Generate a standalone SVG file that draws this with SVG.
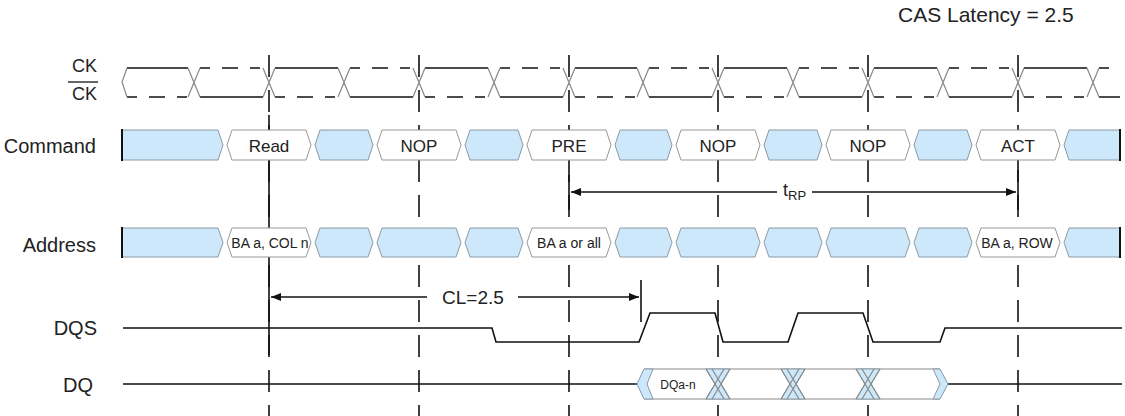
<svg xmlns="http://www.w3.org/2000/svg" width="1125" height="416" viewBox="0 0 1125 416">
<style>
text{font-family:"Liberation Sans",Arial,sans-serif;fill:#222}
.lbl{font-size:20px;text-anchor:end}
.cmd{font-size:17px;text-anchor:middle}
.adr{font-size:14px;text-anchor:middle}
.b{fill:#cde8fb;stroke:#8a9aa6;stroke-width:1}
.w{fill:#fff;stroke:#999;stroke-width:1}
.sol{fill:none;stroke:#111;stroke-width:1.6}
.dash{fill:none;stroke:#111;stroke-width:1.6;stroke-dasharray:10 12 16 12}
.xg{fill:none;stroke:#888;stroke-width:1.2}
.grid{fill:none;stroke:#111;stroke-width:1.6;stroke-dasharray:22 13}
.edge{stroke:#111;stroke-width:2}
</style>
<defs>
<marker id="ah" viewBox="0 0 10 8" refX="10" refY="4" markerWidth="10" markerHeight="8" markerUnits="userSpaceOnUse" orient="auto">
<path d="M0,0L10,4L0,8z" fill="#111"/>
</marker>
</defs>

<text x="898" y="22" style="font-size:21px">CAS Latency = 2.5</text>

<g id="connectors">
<path class="grid" d="M269,55V416M419,55V416M569,55V416M718,55V416M868,55V416M1018,55V416"/>
<path class="sol" d="M269,115V355M569,175V210M1018,170V210M641,280V322"/>
<path class="sol" marker-end="url(#ah)" d="M777,192H571"/>
<path class="sol" marker-end="url(#ah)" d="M812,192H1016"/>
<path class="sol" marker-end="url(#ah)" d="M427,297H271"/>
<path class="sol" marker-end="url(#ah)" d="M518,297H639"/>
<text x="783" y="196" style="font-size:18px">t<tspan dy="4" style="font-size:13px">RP</tspan></text>
<text x="442" y="304" style="font-size:19px">CL=2.5</text>
</g>

<g id="ck">
<text class="lbl" x="97" y="72" style="font-size:18px">CK</text>
<line x1="68" y1="82" x2="98" y2="82" stroke="#333" stroke-width="1.5"/>
<text class="lbl" x="97" y="100" style="font-size:18px">CK</text>
<path class="sol" d="M127,68H188M275,68H338M425,68H488M575,68H637M724,68H787M874,68H937M1024,68H1087"/>
<path class="sol" d="M200,97H263M350,97H413M500,97H563M649,97H712M799,97H862M949,97H1012M1099,97H1120"/>
<path class="dash" d="M200,68H263M350,68H413M500,68H563M649,68H712M799,68H862M949,68H1012M1099,68H1120"/>
<path class="dash" d="M127,97H188M275,97H338M425,97H488M575,97H637M724,97H787M874,97H937M1024,97H1087"/>
<path class="xg" d="M127,68L122,82L127,97M188,68L200,97M188,97L200,68M263,68L275,97M263,97L275,68M338,68L350,97M338,97L350,68M413,68L425,97M413,97L425,68M488,68L500,97M488,97L500,68M563,68L575,97M563,97L575,68M637,68L649,97M637,97L649,68M712,68L724,97M712,97L724,68M787,68L799,97M787,97L799,68M862,68L874,97M862,97L874,68M937,68L949,97M937,97L949,68M1012,68L1024,97M1012,97L1024,68M1087,68L1099,97M1087,97L1099,68"/>
</g>

<g id="command">
<text class="lbl" x="96" y="153">Command</text>
<polygon class="b" points="122,130 218,130 223,145 218,160 122,160"/>
<polygon class="w" points="227,145 232,130 306,130 311,145 306,160 232,160"/>
<polygon class="b" points="315,145 320,130 368,130 373,145 368,160 320,160"/>
<polygon class="w" points="377,145 382,130 456,130 461,145 456,160 382,160"/>
<polygon class="b" points="465,145 470,130 518,130 523,145 518,160 470,160"/>
<polygon class="w" points="527,145 532,130 606,130 611,145 606,160 532,160"/>
<polygon class="b" points="615,145 620,130 667,130 672,145 667,160 620,160"/>
<polygon class="w" points="676,145 681,130 755,130 760,145 755,160 681,160"/>
<polygon class="b" points="764,145 769,130 817,130 822,145 817,160 769,160"/>
<polygon class="w" points="826,145 831,130 905,130 910,145 905,160 831,160"/>
<polygon class="b" points="914,145 919,130 967,130 972,145 967,160 919,160"/>
<polygon class="w" points="976,145 981,130 1055,130 1060,145 1055,160 981,160"/>
<polygon class="b" points="1064,145 1069,130 1120,130 1120,160 1069,160"/>
<path class="edge" d="M122,129V161M1120,129V161"/>
<text class="cmd" x="269" y="152">Read</text>
<text class="cmd" x="419" y="152">NOP</text>
<text class="cmd" x="569" y="152">PRE</text>
<text class="cmd" x="718" y="152">NOP</text>
<text class="cmd" x="868" y="152">NOP</text>
<text class="cmd" x="1018" y="152">ACT</text>
</g>

<g id="address">
<text class="lbl" x="96" y="252">Address</text>
<polygon class="b" points="122,228 218,228 223,242.5 218,257 122,257"/>
<polygon class="w" points="227,242.5 232,228 306,228 311,242.5 306,257 232,257"/>
<polygon class="b" points="315,242.5 320,228 368,228 373,242.5 368,257 320,257"/>
<polygon class="b" points="377,242.5 382,228 456,228 461,242.5 456,257 382,257"/>
<polygon class="b" points="465,242.5 470,228 518,228 523,242.5 518,257 470,257"/>
<polygon class="w" points="527,242.5 532,228 606,228 611,242.5 606,257 532,257"/>
<polygon class="b" points="615,242.5 620,228 667,228 672,242.5 667,257 620,257"/>
<polygon class="b" points="676,242.5 681,228 755,228 760,242.5 755,257 681,257"/>
<polygon class="b" points="764,242.5 769,228 817,228 822,242.5 817,257 769,257"/>
<polygon class="b" points="826,242.5 831,228 905,228 910,242.5 905,257 831,257"/>
<polygon class="b" points="914,242.5 919,228 967,228 972,242.5 967,257 919,257"/>
<polygon class="w" points="976,242.5 981,228 1055,228 1060,242.5 1055,257 981,257"/>
<polygon class="b" points="1064,242.5 1069,228 1120,228 1120,257 1069,257"/>
<path class="edge" d="M122,227V258M1120,227V258"/>
<text class="adr" x="270" y="248">BA a, COL n</text>
<text class="adr" x="569" y="248">BA a or all</text>
<text class="adr" x="1017" y="248">BA a, ROW</text>
</g>

<g id="dqs">
<text class="lbl" x="97" y="335">DQS</text>
<path class="sol" d="M123,328H492L496,342H639L650,313H715L723,342H788L798,313H863L873,342H940L945,328H1122"/>
</g>

<g id="dq">
<text class="lbl" x="93" y="392">DQ</text>
<path class="sol" d="M123,384H637M948,384H1122"/>
<rect x="644" y="369" width="296" height="30" fill="#fff"/>
<path class="xg" d="M644,369H940M644,399H940"/>
<polygon class="b" points="644,369 653,369 647,384 653,399 644,399 637,384"/>
<polygon class="b" points="933,369 940,369 948,384 940,399 933,399 940,384"/>
<polygon class="b" points="706,369 730,369 721,384 730,399 706,399 715,384"/>
<polygon class="b" points="781,369 805,369 796,384 805,399 781,399 790,384"/>
<polygon class="b" points="856,369 880,369 871,384 880,399 856,399 865,384"/>
<path class="xg" d="M706,369L724,399M706,399L724,369M712,369L730,399M712,399L730,369M781,369L799,399M781,399L799,369M787,369L805,399M787,399L805,369M856,369L874,399M856,399L874,369M862,369L880,399M862,399L880,369"/>
<text x="678" y="389" style="font-size:12px;text-anchor:middle">DQa-n</text>
</g>
</svg>
